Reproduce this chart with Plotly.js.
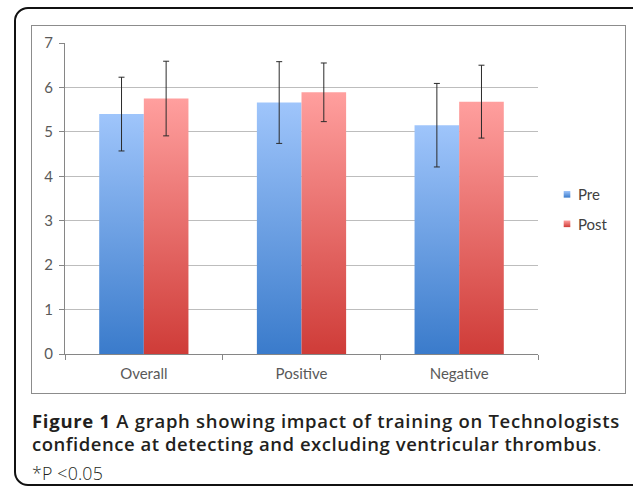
<!DOCTYPE html>
<html>
<head>
<meta charset="utf-8">
<script src="https://cdn.plot.ly/plotly-3.0.1.min.js"></script>
<style>
  html, body { margin: 0; padding: 0; background: #fff; width: 633px; height: 490px; overflow: hidden; }
  #outer { position: absolute; left: 14px; top: 7px; width: 640px; height: 479px; border: 2px solid #111; border-radius: 14px; box-sizing: border-box; }
  #frame { position: absolute; left: 31px; top: 25px; width: 595px; height: 369px; border: 1px solid #8c8c8c; box-sizing: border-box; background: #fff; }
  #chart { position: absolute; left: 0; top: 0; }
  .cap { position: absolute; left: 32px; font-family: "Open Sans", sans-serif; font-size: 18.5px; line-height: 18.5px; color: #231f20; white-space: nowrap; }
  .cap .fig { font-weight: 700; }
  .cap .main { font-weight: 600; }
  .cap .note { font-weight: 300; }
  #l1 { top: 411.5px; }
  #l2 { top: 434.5px; }
  #l3 { top: 465px; font-size: 17.8px; line-height: 17.8px; }
</style>
</head>
<body>
<div id="outer"></div>
<div id="frame"><div id="chart"></div></div>
<div class="cap" id="l1"><span class="fig">Figure 1</span><span class="main"> A graph showing impact of training on Technologists</span></div>
<div class="cap" id="l2"><span class="main">confidence at detecting and excluding ventricular thrombus</span><span class="note">.</span></div>
<div class="cap" id="l3"><span class="note">*P &lt;0.05</span></div>
<script>
// Data
const categories = ["Overall", "Positive", "Negative"];
const preValues = [5.40, 5.66, 5.15];
const preErrors = [0.83, 0.92, 0.94];
const postValues = [5.75, 5.89, 5.68];
const postErrors = [0.84, 0.66, 0.82];
const seriesNames = ["Pre", "Post"];
const yTicks = [0, 1, 2, 3, 4, 5, 6, 7];

// fit caption lines to the reference widths
[["l1", 588], ["l2", 570], ["l3", 71]].forEach(function (pair) {
  const el = document.getElementById(pair[0]);
  const w = el.getBoundingClientRect().width;
  const n = el.textContent.length;
  el.style.letterSpacing = ((pair[1] - w) / n).toFixed(3) + "px";
});

const tickFont = { family: "Lato, 'Noto Sans', sans-serif", size: 15, color: "#595959" };

const traces = [
  {
    type: "bar", name: seriesNames[0], x: categories, y: preValues, legendgroup: "a",
    marker: { color: "#6a9fe6", line: { width: 0 } },
    error_y: { type: "data", array: preErrors, visible: true, color: "#2b2b2b", thickness: 1, width: 3 }
  },
  {
    type: "bar", name: seriesNames[1], x: categories, y: postValues, legendgroup: "b",
    marker: { color: "#e76b68", line: { width: 0 } },
    error_y: { type: "data", array: postErrors, visible: true, color: "#2b2b2b", thickness: 1, width: 3 }
  }
];

const layout = {
  width: 593, height: 367,
  margin: { l: 33, r: 83, t: 17, b: 39 },
  paper_bgcolor: "#fff", plot_bgcolor: "#fff",
  barmode: "group", bargap: 0.434, bargroupgap: 0,
  font: tickFont,
  showlegend: true,
  legend: {
    x: 1.0, xanchor: "left", y: 0.466, yanchor: "middle",
    font: { family: "Lato, 'Noto Sans', sans-serif", size: 15, color: "#404040" },
    tracegroupgap: 7, traceorder: "grouped", bgcolor: "rgba(0,0,0,0)"
  },
  xaxis: {
    type: "category", tickson: "boundaries", ticks: "outside", ticklen: 5, tickcolor: "#868686",
    showline: true, linecolor: "#868686", linewidth: 1, showgrid: false,
    tickfont: tickFont, ticklabelstandoff: 6, fixedrange: true
  },
  yaxis: {
    range: [0, 7], tickvals: yTicks, ticktext: yTicks.map(String),
    ticks: "outside", ticklen: 5, tickcolor: "#868686",
    showline: true, linecolor: "#868686", linewidth: 1,
    showgrid: true, gridcolor: "#bdbdbd", gridwidth: 1, zeroline: false,
    tickfont: tickFont, ticklabelstandoff: 3, fixedrange: true
  }
};

Plotly.newPlot("chart", traces, layout, { staticPlot: true, displayModeBar: false }).then(function (gd) {
  const svgNS = "http://www.w3.org/2000/svg";
  const svg = gd.querySelector("svg.main-svg");
  const defs = svg.querySelector("defs");
  function addGrad(id, top, bottom) {
    const g = document.createElementNS(svgNS, "linearGradient");
    g.setAttribute("id", id);
    g.setAttribute("x1", "0"); g.setAttribute("y1", "0");
    g.setAttribute("x2", "0"); g.setAttribute("y2", "1");
    const s1 = document.createElementNS(svgNS, "stop");
    s1.setAttribute("offset", "0"); s1.setAttribute("stop-color", top);
    const s2 = document.createElementNS(svgNS, "stop");
    s2.setAttribute("offset", "1"); s2.setAttribute("stop-color", bottom);
    g.appendChild(s1); g.appendChild(s2);
    defs.appendChild(g);
  }
  addGrad("gradPre", "#9fc5fb", "#3a7bcb");
  addGrad("gradPost", "#ff9f9e", "#cf3c38");
  const grads = ["url(#gradPre)", "url(#gradPost)"];
  gd.querySelectorAll(".barlayer .trace.bars").forEach(function (tr, i) {
    tr.querySelectorAll(".point path").forEach(function (p) { p.style.fill = grads[i]; });
  });
  gd.querySelectorAll(".legend .traces").forEach(function (tr, i) {
    tr.querySelectorAll(".legendpoints path").forEach(function (p) {
      p.style.fill = grads[i];
      p.setAttribute("transform", "translate(29,0) scale(0.55)");
    });
  });
});
</script>
</body>
</html>
